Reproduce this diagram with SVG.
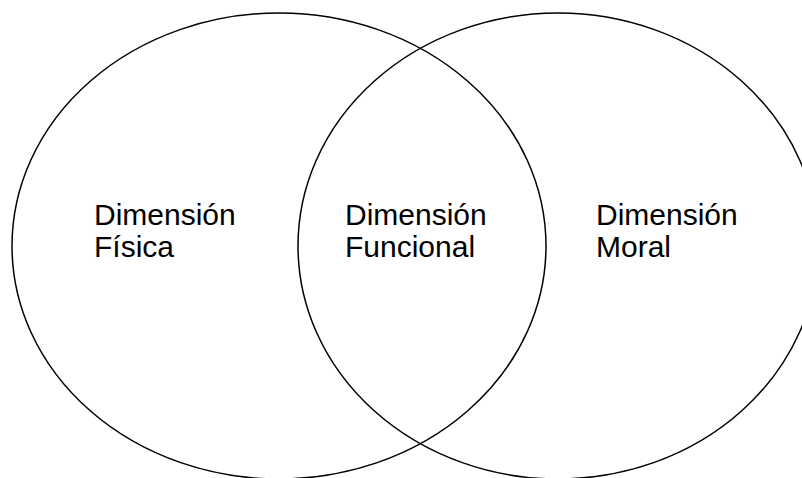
<svg xmlns="http://www.w3.org/2000/svg" width="802" height="478" viewBox="0 0 802 478">
<style>
.c{fill:none;stroke:#000;stroke-width:1.5}
.t{font-family:"Liberation Sans",Arial,sans-serif;font-size:30px;fill:#000}
</style>
<rect width="802" height="478" fill="#fff"/>
<g id="left-circle"><ellipse class="c" cx="279" cy="246" rx="267" ry="233"/></g>
<g id="right-circle"><ellipse class="c" cx="558" cy="246" rx="260" ry="233"/></g>
<g id="connectors"></g>
<g id="label-fisica"><text class="t" x="94" y="225">Dimensión</text><text class="t" x="94" y="257">Física</text></g>
<g id="label-funcional"><text class="t" x="345" y="225">Dimensión</text><text class="t" x="345" y="257">Funcional</text></g>
<g id="label-moral"><text class="t" x="596" y="225">Dimensión</text><text class="t" x="596" y="257">Moral</text></g>
</svg>
